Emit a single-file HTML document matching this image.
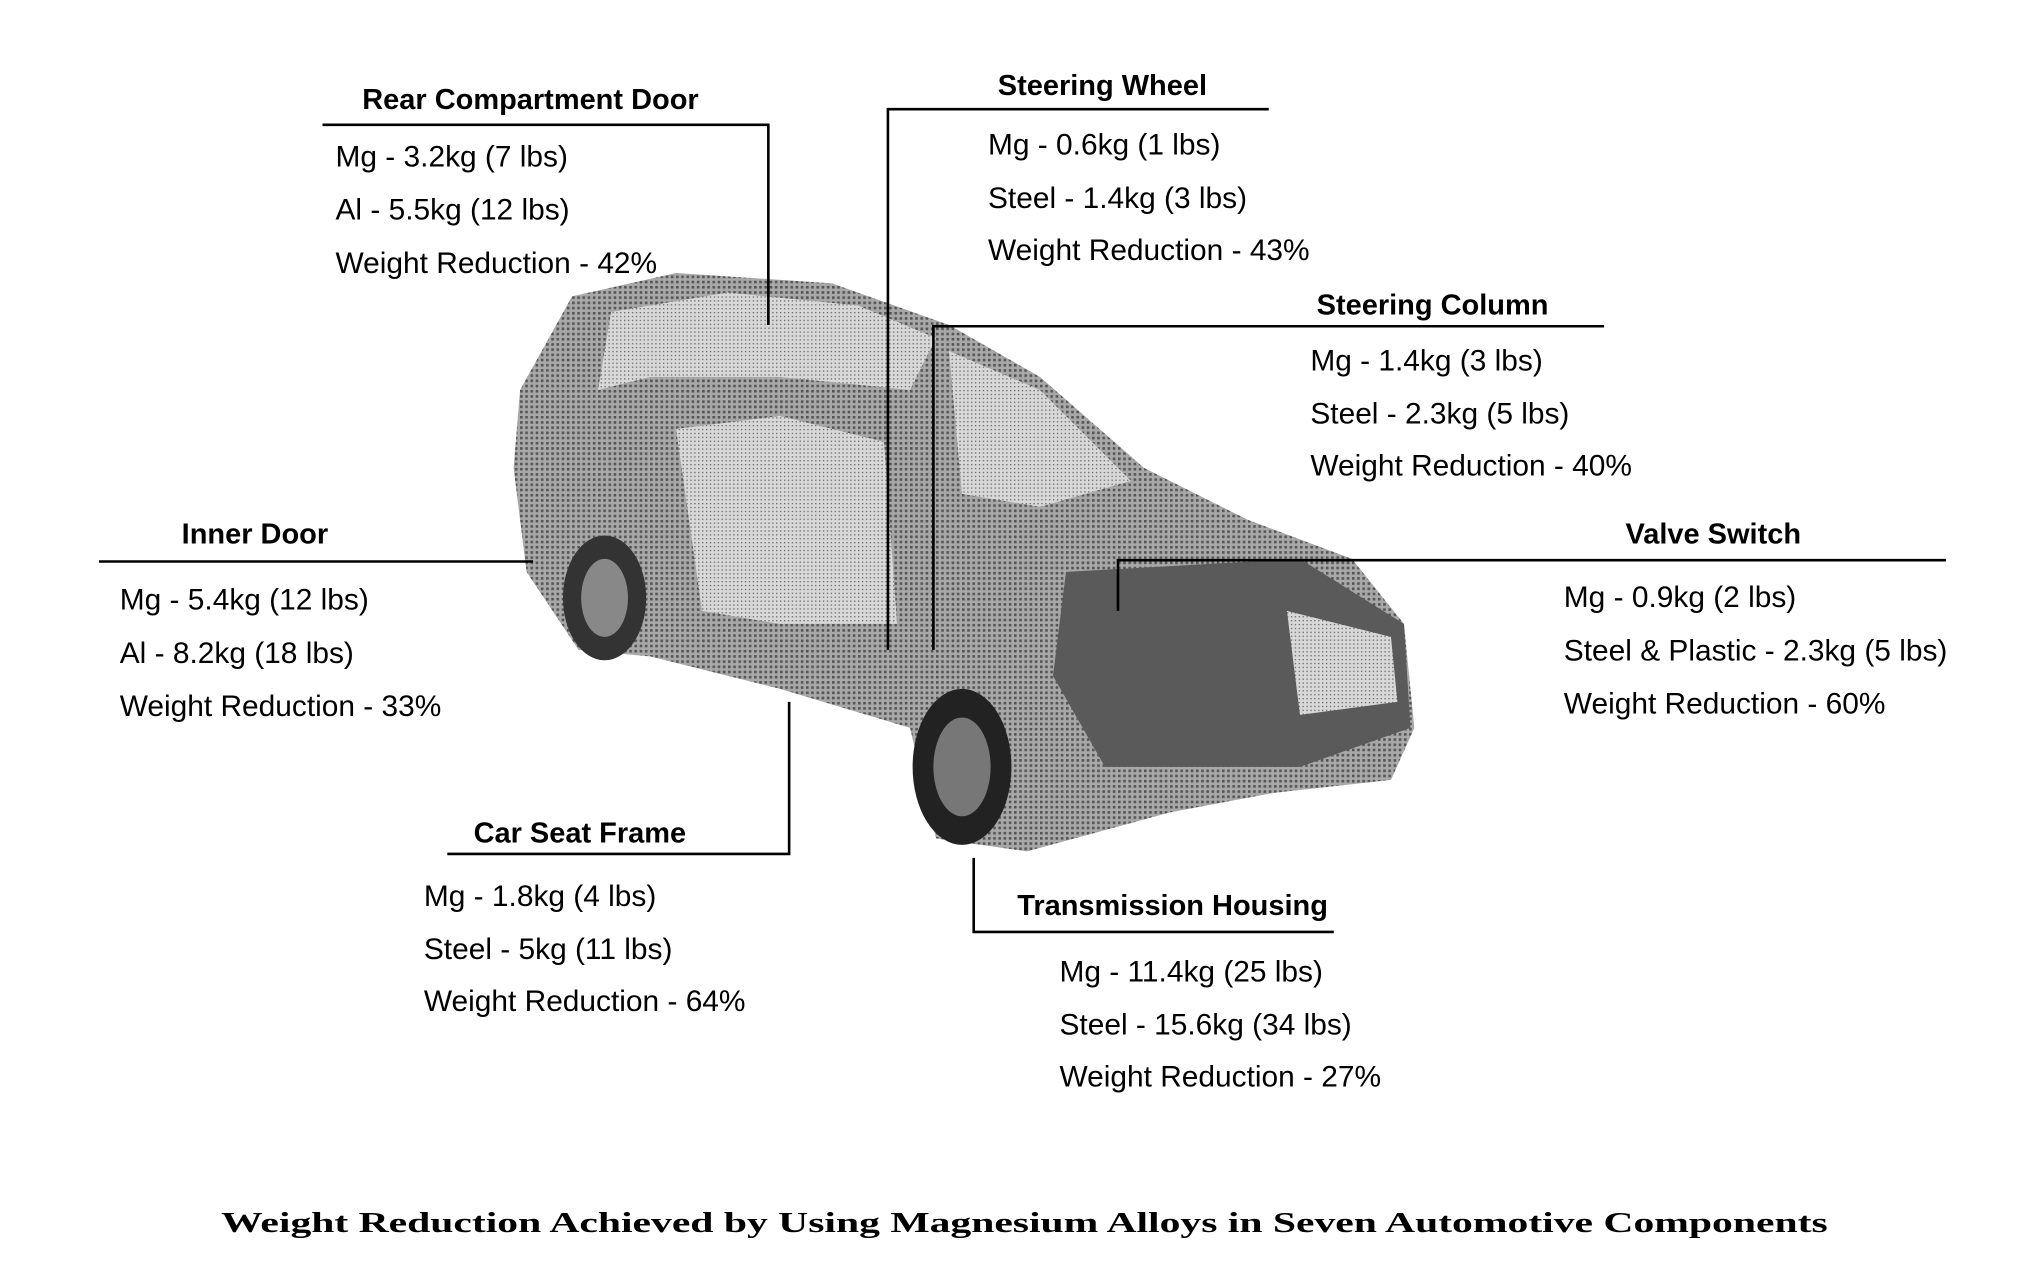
<!DOCTYPE html>
<html><head><meta charset="utf-8">
<style>
html,body{margin:0;padding:0;background:#fff;}
svg{display:block;}
.h{font-family:"Liberation Sans",sans-serif;font-weight:bold;font-size:22.3px;fill:#000;text-anchor:middle;}
.t{font-family:"Liberation Sans",sans-serif;font-size:23px;fill:#000;}
</style></head><body>
<svg width="2028" height="1279" viewBox="0 0 1560 984" xmlns="http://www.w3.org/2000/svg">
<defs>
<pattern id="dots" width="4" height="4" patternUnits="userSpaceOnUse">
<rect width="4" height="4" fill="#a8a8a8"/>
<rect width="2" height="2" fill="#555"/>
</pattern>
<pattern id="dots2" width="3" height="3" patternUnits="userSpaceOnUse">
<rect width="3" height="3" fill="#d8d8d8"/>
<rect width="1" height="1" fill="#666"/>
</pattern>
</defs>
<rect width="1560" height="984" fill="#fff"/>
<polygon fill="url(#dots)" points="400,300 440,228 520,210 640,218 730,250 800,290 880,360 960,400 1040,430 1080,480 1088,560 1070,600 980,610 900,625 790,655 720,645 700,560 600,530 500,505 445,500 405,440 395,360"/>
<polygon fill="url(#dots2)" points="470,240 560,225 660,235 720,260 700,300 600,290 500,290 460,300"/>
<polygon fill="url(#dots2)" points="730,270 800,300 870,370 800,390 740,380"/>
<polygon fill="url(#dots2)" points="520,330 600,320 680,340 690,480 600,480 540,470"/>
<ellipse cx="465" cy="460" rx="32" ry="48" fill="#333"/>
<ellipse cx="465" cy="460" rx="18" ry="30" fill="#888"/>
<ellipse cx="740" cy="590" rx="38" ry="60" fill="#222"/>
<ellipse cx="740" cy="590" rx="22" ry="38" fill="#777"/>
<polygon fill="#5a5a5a" points="820,440 1000,430 1080,480 1085,560 1000,590 850,590 810,520"/>
<polygon fill="url(#dots2)" points="990,470 1070,490 1075,540 1000,550"/>
<g stroke="#000" stroke-width="2" fill="none">
<path d="M248 96 H591 V250"/>
<path d="M976 84 H683 V500"/>
<path d="M1234 251 H718 V500"/>
<path d="M76 432 H410"/>
<path d="M1497 431 H860 V470"/>
<path d="M344 657 H607 V540"/>
<path d="M1026 717 H749 V660"/>
</g>
<text class="h" x="408" y="84">Rear Compartment Door</text>
<text class="t" x="258" y="128">Mg - 3.2kg (7 lbs)</text>
<text class="t" x="258" y="169">Al - 5.5kg (12 lbs)</text>
<text class="t" x="258" y="210">Weight Reduction - 42%</text>

<text class="h" x="848" y="73">Steering Wheel</text>
<text class="t" x="760" y="119">Mg - 0.6kg (1 lbs)</text>
<text class="t" x="760" y="160">Steel - 1.4kg (3 lbs)</text>
<text class="t" x="760" y="200">Weight Reduction - 43%</text>

<text class="h" x="1102" y="242">Steering Column</text>
<text class="t" x="1008" y="285">Mg - 1.4kg (3 lbs)</text>
<text class="t" x="1008" y="326">Steel - 2.3kg (5 lbs)</text>
<text class="t" x="1008" y="366">Weight Reduction - 40%</text>

<text class="h" x="196" y="418">Inner Door</text>
<text class="t" x="92" y="469">Mg - 5.4kg (12 lbs)</text>
<text class="t" x="92" y="510">Al - 8.2kg (18 lbs)</text>
<text class="t" x="92" y="551">Weight Reduction - 33%</text>

<text class="h" x="1318" y="418">Valve Switch</text>
<text class="t" x="1203" y="467">Mg - 0.9kg (2 lbs)</text>
<text class="t" x="1203" y="508">Steel &amp; Plastic - 2.3kg (5 lbs)</text>
<text class="t" x="1203" y="549">Weight Reduction - 60%</text>

<text class="h" x="446" y="648">Car Seat Frame</text>
<text class="t" x="326" y="697">Mg - 1.8kg (4 lbs)</text>
<text class="t" x="326" y="738">Steel - 5kg (11 lbs)</text>
<text class="t" x="326" y="778">Weight Reduction - 64%</text>

<text class="h" x="902" y="704">Transmission Housing</text>
<text class="t" x="815" y="755">Mg - 11.4kg (25 lbs)</text>
<text class="t" x="815" y="796">Steel - 15.6kg (34 lbs)</text>
<text class="t" x="815" y="836">Weight Reduction - 27%</text>

<text x="170" y="948" textLength="1236" lengthAdjust="spacingAndGlyphs" style="font-family:'Liberation Serif',serif;font-weight:bold;font-size:22px;fill:#000;">Weight Reduction Achieved by Using Magnesium Alloys in Seven Automotive Components</text>
</svg>
</body></html>
